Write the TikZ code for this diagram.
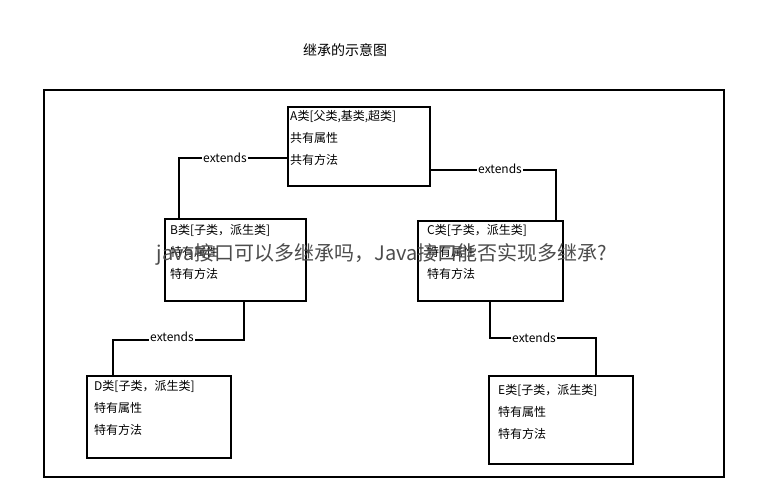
\documentclass[tikz,border=0pt]{standalone}
\usepackage{fontspec}
\setmainfont{Noto Sans CJK SC}
\begin{document}
\begin{tikzpicture}[x=1pt,y=-1pt,
  box/.style={draw,line width=2pt,anchor=north west,inner sep=0pt},
  txt/.style={anchor=north west,align=left,inner sep=0pt,font=\fontsize{12}{22}\selectfont},
  ln/.style={line width=2pt},
  lbl/.style={fill=white,font=\fontsize{12}{14}\selectfont,inner sep=1pt}]
\useasboundingbox (0,0) rectangle (765,490);
\node (title) at (345,50) {\fontsize{14}{16}\selectfont 继承的示意图};
\draw[line width=2pt] (44,90) rectangle (724,477);
\node[box,minimum width=142pt,minimum height=79pt] (A) at (287,106) {};
\node[txt] (At) at (290,110) {A类[父类,基类,超类]\\共有属性\\共有方法};
\node[box,minimum width=141pt,minimum height=82pt] (B) at (164,218) {};
\node[txt] (Bt) at (170,224) {B类[子类，派生类]\\特有属性\\特有方法};
\node[box,minimum width=145pt,minimum height=80pt] (C) at (417,220) {};
\node[txt] (Ct) at (427,224) {C类[子类，派生类]\\特有属性\\特有方法};
\node[box,minimum width=144pt,minimum height=82pt] (D) at (86,375) {};
\node[txt] (Dt) at (94,380) {D类[子类，派生类]\\特有属性\\特有方法};
\node[box,minimum width=144pt,minimum height=88pt] (E) at (488,375) {};
\node[txt] (Et) at (498,384) {E类[子类，派生类]\\特有属性\\特有方法};
\draw[ln] (A.west |- 0,158) -- (179,158) -- (B.north -| 179,0);
\node[lbl] (l1) at (225,158) {extends};
\draw[ln] (A.east |- 0,170) -- (556,170) -- (C.north -| 556,0);
\node[lbl] (l2) at (500,169) {extends};
\draw[ln] (B.south -| 244,0) -- (244,340) -- (113,340) -- (D.north -| 113,0);
\node[lbl] (l3) at (172,337) {extends};
\draw[ln] (C.south -| 490,0) -- (490,338) -- (596,338) -- (596,375);
\node[lbl] (l4) at (534,338) {extends};
\node[text=black!70,font=\fontsize{20}{22}\selectfont] (wm) at (382,254) {java接口可以多继承吗，Java接口能否实现多继承?};
\end{tikzpicture}
\end{document}
